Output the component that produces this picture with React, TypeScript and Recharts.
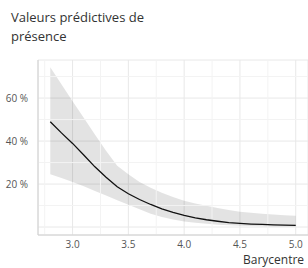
import React from 'react';
import { ComposedChart, Area, Line, XAxis, YAxis, CartesianGrid, ReferenceLine } from 'recharts';

const xs = [2.8, 2.9, 3.0, 3.1, 3.2, 3.3, 3.4, 3.5, 3.6, 3.7, 3.8, 3.9, 4.0, 4.1, 4.2, 4.3, 4.4, 4.5, 4.6, 4.7, 4.8, 4.9, 5.0];
const fit = [0.49, 0.438, 0.389, 0.335, 0.28, 0.232, 0.187, 0.155, 0.128, 0.105, 0.085, 0.068, 0.054, 0.043, 0.034, 0.027, 0.021, 0.017, 0.014, 0.012, 0.01, 0.009, 0.008];
const upper = [0.743, 0.664, 0.585, 0.508, 0.43, 0.355, 0.285, 0.245, 0.21, 0.183, 0.16, 0.14, 0.122, 0.11, 0.099, 0.089, 0.079, 0.071, 0.066, 0.062, 0.058, 0.055, 0.053];
const lower = [0.245, 0.228, 0.21, 0.19, 0.168, 0.147, 0.125, 0.104, 0.083, 0.062, 0.047, 0.035, 0.026, 0.02, 0.015, 0.011, 0.008, 0.006, 0.005, 0.004, 0.003, 0.003, 0.003];

const xTicks = [3.0, 3.5, 4.0, 4.5, 5.0];
const xMinor = [2.75, 3.25, 3.75, 4.25, 4.75];
const yTicks = [0, 0.2, 0.4, 0.6];
const yMinor = [0.1, 0.3, 0.5, 0.7];

const title = ['Valeurs prédictives de', 'présence'];
const xLabel = 'Barycentre';

const data = xs.map((x, i) => ({ x, fit: fit[i], band: [lower[i], upper[i]] }));

const FONT = '"Open Sans", sans-serif';

export default function App() {
  return (
    <div style={{ position: 'absolute', left: 0, top: 0, width: 308, height: 268, overflow: 'hidden', background: '#fff', fontFamily: FONT }}>
      <div style={{ position: 'absolute', left: 11, top: 8, fontSize: 13, lineHeight: '19px', color: '#333' }}>
        {title.map((t) => (
          <div key={t}>{t}</div>
        ))}
      </div>
      <ComposedChart width={308} height={268} data={data} margin={{ top: 60, right: 0, bottom: 13, left: 0 }}>
        <CartesianGrid stroke="#e8e8e8" />
        {yMinor.map((v) => (
          <ReferenceLine key={'y' + v} y={v} stroke="#f3f3f3" />
        ))}
        {xMinor.map((v) => (
          <ReferenceLine key={'x' + v} x={v} stroke="#f3f3f3" />
        ))}
        <XAxis
          type="number"
          dataKey="x"
          domain={[2.69, 5.11]}
          ticks={xTicks}
          tickFormatter={(v: number) => v.toFixed(1)}
          axisLine={{ stroke: '#d0d0d0' }}
          tickLine={false}
          tick={{ fontSize: 10, fill: '#555', fontFamily: FONT }}
          tickMargin={0}
          height={20}
        />
        <YAxis
          type="number"
          domain={[-0.037, 0.777]}
          ticks={yTicks}
          tickFormatter={(v: number) => (v === 0 ? '' : `${Math.round(v * 100)} %`)}
          axisLine={{ stroke: '#d0d0d0' }}
          tickLine={false}
          tick={{ fontSize: 10, fill: '#555', fontFamily: FONT }}
          tickMargin={4}
          width={38}
        />
        <Area dataKey="band" stroke="none" fill="#000" fillOpacity={0.11} isAnimationActive={false} />
        <Line dataKey="fit" stroke="#111" strokeWidth={1.3} dot={false} isAnimationActive={false} />
      </ComposedChart>
      <div style={{ position: 'absolute', left: 243, top: 252, fontSize: 12, lineHeight: '15px', color: '#333', whiteSpace: 'nowrap' }}>{xLabel}</div>
    </div>
  );
}
